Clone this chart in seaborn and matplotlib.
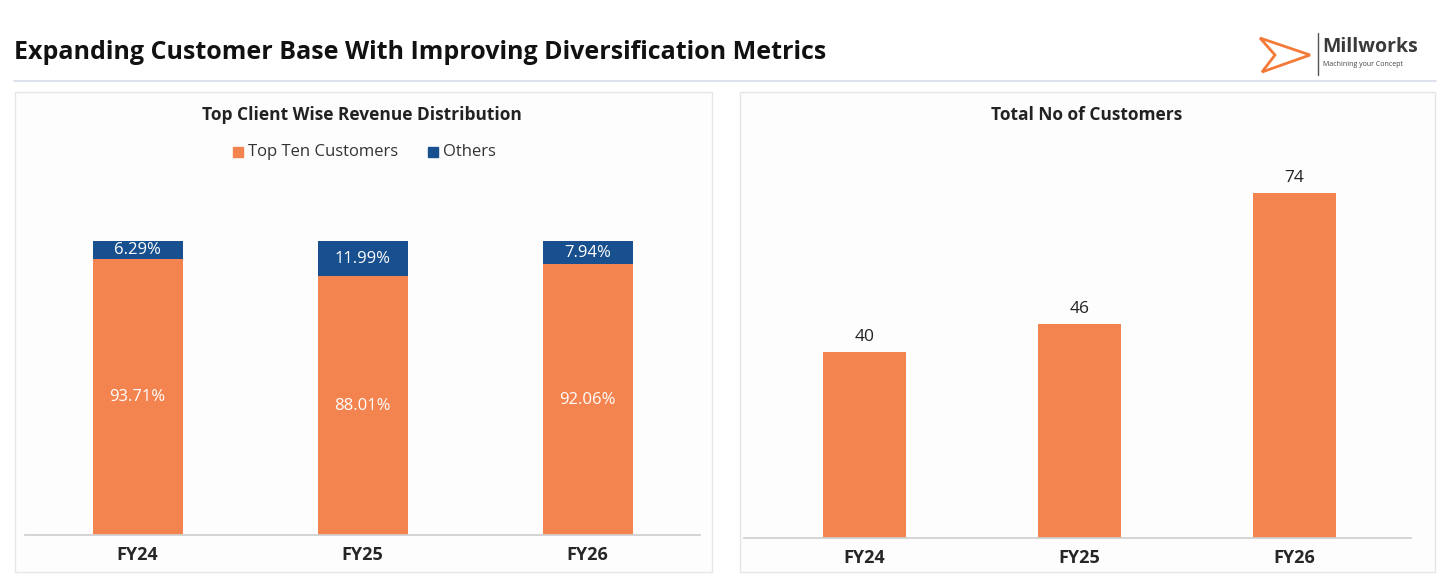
import matplotlib
matplotlib.use("Agg")
import matplotlib.pyplot as plt
import seaborn as sns
import pandas as pd
from matplotlib.patches import Rectangle, Polygon

years = ["FY24", "FY25", "FY26"]
top_ten = [93.71, 88.01, 92.06]
others = [6.29, 11.99, 7.94]
customers = [40, 46, 74]

orange = "#F4844F"
blue = "#18508F"

sns.set_theme(style="white")
plt.rcParams["font.family"] = ["Open Sans", "DejaVu Sans"]

fig = plt.figure(figsize=(14.4, 5.8), dpi=100)
fig.patch.set_facecolor("white")

# title band
fig.text(0.010, 0.91, "Expanding Customer Base With Improving Diversification Metrics",
         fontsize=18, fontweight="bold", color="#111111", va="center")
fig.add_artist(plt.Line2D([0.010, 0.997], [0.861, 0.861], color="#D5DCE8", lw=1.2))

# logo
fig.add_artist(Polygon([[1260/1440, 1-38/580], [1310/1440, 1-55/580], [1262/1440, 1-72/580],
                        [1275/1440, 1-55/580]], closed=True, fill=False, ec="#F47A3A", lw=2))
fig.add_artist(plt.Line2D([1318/1440, 1318/1440], [1-33/580, 1-75/580], color="#555", lw=1))
fig.text(1322/1440, 1-47/580, "Millworks", fontsize=14, fontweight="bold", color="#3A3A3A", va="center")
fig.text(1323/1440, 1-65/580, "Machining your Concept", fontsize=5, color="#444", va="center")

# panel boxes
for x0, x1 in [(15, 712), (740, 1435)]:
    fig.add_artist(Rectangle((x0/1440, 1-572/580), (x1-x0)/1440, (572-92)/580,
                             fill=True, fc="#FDFDFE", ec="#E6E6EA", lw=1, zorder=-5))

# left chart
ax1 = fig.add_axes([25/1440, 1-535/580, 675/1440, 365/580])
ax1.set_facecolor("none")
df1 = pd.DataFrame({"year": years, "top": top_ten, "others": others})
df1["total"] = df1["top"] + df1["others"]
sns.barplot(data=df1, x="year", y="total", color=blue, width=0.4, saturation=1, linewidth=0, ax=ax1)
sns.barplot(data=df1, x="year", y="top", color=orange, width=0.4, saturation=1, linewidth=0, ax=ax1)
for i, (t, o) in enumerate(zip(top_ten, others)):
    ax1.text(i, t / 2, f"{t:.2f}%", ha="center", va="center", color="white", fontsize=12)
    ax1.text(i, t + o / 2, f"{o:.2f}%", ha="center", va="center", color="white", fontsize=12)
ax1.set_ylim(0, 124.1)
ax1.set_xlim(-0.5, 2.5)
ax1.set_xlabel("")
ax1.set_ylabel("")
ax1.set_yticks([])
ax1.tick_params(axis="x", length=0, pad=8, labelsize=13)
for lab in ax1.get_xticklabels():
    lab.set_fontweight("bold")
for s in ["top", "right", "left"]:
    ax1.spines[s].set_visible(False)
ax1.spines["bottom"].set_color("#D0D0D0")
fig.text(362/1440, 1-115/580, "Top Client Wise Revenue Distribution", ha="center", va="center",
         fontsize=12.5, fontweight="bold", color="#222")
fig.add_artist(Rectangle((233/1440, 1-157/580), 10/1440, 10/580, color=orange))
fig.text(248/1440, 1-152/580, "Top Ten Customers", va="center", fontsize=12, color="#333")
fig.add_artist(Rectangle((428/1440, 1-157/580), 10/1440, 10/580, color=blue))
fig.text(443/1440, 1-152/580, "Others", va="center", fontsize=12, color="#333")

# right chart
ax2 = fig.add_axes([757/1440, 1-538/580, 645/1440, 368/580])
ax2.set_facecolor("none")
df2 = pd.DataFrame({"year": years, "customers": customers})
sns.barplot(data=df2, x="year", y="customers", color=orange, width=0.39, saturation=1, linewidth=0, ax=ax2)
for i, v in enumerate(customers):
    ax2.text(i, v + 1.5, str(v), ha="center", va="bottom", fontsize=12.5, color="#222")
ax2.set_ylim(0, 74 * 368 / 345)
ax2.set_xlim(-0.5, 2.5)
ax2.set_xlabel("")
ax2.set_ylabel("")
ax2.set_yticks([])
ax2.tick_params(axis="x", length=0, pad=8, labelsize=13)
for lab in ax2.get_xticklabels():
    lab.set_fontweight("bold")
for s in ["top", "right", "left"]:
    ax2.spines[s].set_visible(False)
ax2.spines["bottom"].set_color("#D0D0D0")
ax2.spines["bottom"].set_bounds(-0.56, 2.54)
fig.text(1087/1440, 1-115/580, "Total No of Customers", ha="center", va="center",
         fontsize=12.5, fontweight="bold", color="#222")

fig.savefig("out.png", dpi=100)
